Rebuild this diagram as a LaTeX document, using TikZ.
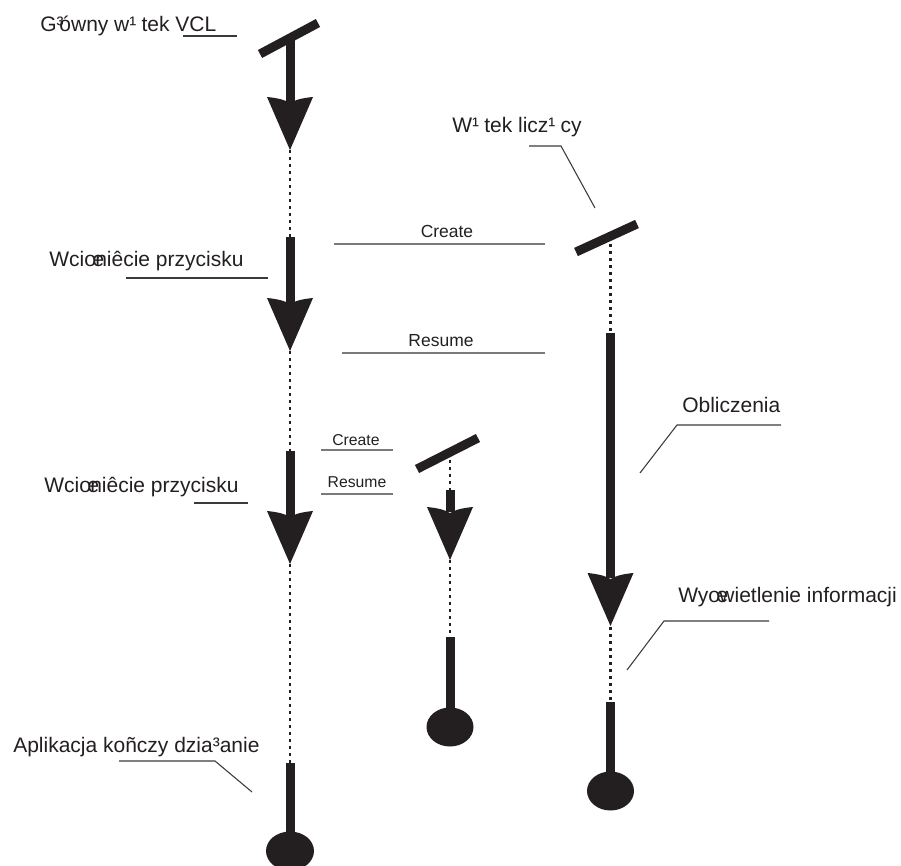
\documentclass[tikz,border=0pt]{standalone}
\usepackage{fontspec}
\setmainfont{Liberation Sans}
\definecolor{ink}{HTML}{231F20}
\definecolor{lead}{HTML}{3A3A3A}
\definecolor{msg}{HTML}{7A7A7A}
% the oe ligature is set with a narrow advance, so it overlaps the next letter
\newcommand{\narrowoe}{œ\kern-0.42em}
% the superscript one is set with a wide advance
\newcommand{\wideone}{¹\kern0.25em}
\tikzset{
  tiphead/.pic={\fill[ink] (-23,0) .. controls (-12,1) and (-5,3) .. (0,6)
     .. controls (5,3) and (12,1) .. (23,0) -- (0,53) -- cycle;}
}
\begin{document}
\begin{tikzpicture}[x=0.75pt,y=-0.75pt,
  thread/.style={ink,line width=6.75pt},
  waiting/.style={ink,line width=2pt,dash pattern=on 2.25pt off 3pt},
  startbar/.style={ink,line width=6.75pt},
  leader/.style={lead,line width=0.8pt},
  msgline/.style={msg,line width=1.3pt},
  biglabel/.style={ink,inner sep=0pt,font=\fontsize{15.75}{18}\selectfont},
  msglabel/.style={ink,inner sep=0pt,font=\fontsize{13.1}{15}\selectfont},
  smallmsg/.style={ink,inner sep=0pt,font=\fontsize{11.8}{14}\selectfont},
  endblob/.style={ink}]
\useasboundingbox (0,0) rectangle (901,866);

% ---------- main VCL thread ----------
\coordinate (a0) at (290,38);
\coordinate (a1) at (290,103);
\coordinate (a2) at (290,150);
\coordinate (a3) at (290,237);
\coordinate (a4) at (290,304);
\coordinate (a5) at (290,351);
\coordinate (a6) at (290,451);
\coordinate (a7) at (290,517);
\coordinate (a8) at (290,564);
\coordinate (a9) at (290,763);
\coordinate (a10) at (290,840);
\coordinate (aend) at (290,851);
\coordinate (bar1l) at (260,54);
\coordinate (bar1r) at (318,23);

\draw[startbar] (bar1l) -- (bar1r);
\draw[thread] (a0) -- (a1);
\pic at (290,97) {tiphead};
\draw[waiting] (a2) -- (a3);
\draw[thread] (a3) -- (a4);
\pic at (290,298) {tiphead};
\draw[waiting] (a5) -- (a6);
\draw[thread] (a6) -- (a7);
\pic at (290,511) {tiphead};
\draw[waiting] (a8) -- (a9);
\draw[thread] (a9) -- (a10);
\fill[endblob] (aend) ellipse [x radius=24, y radius=19.5];

% ---------- short worker thread ----------
\coordinate (c0) at (450,453);
\coordinate (c1) at (450,490);
\coordinate (c2) at (450,512);
\coordinate (c3) at (450,560);
\coordinate (c4) at (450,637);
\coordinate (c5) at (450,715);
\coordinate (cend) at (450,727);
\coordinate (bar2l) at (417,469);
\coordinate (bar2r) at (478,438);

\draw[startbar] (bar2l) -- (bar2r);
\draw[waiting] (c0) -- (c1);
\draw[thread] (c1) -- (c2);
\pic at (450,507) {tiphead};
\draw[waiting] (c3) -- (c4);
\draw[thread] (c4) -- (c5);
\fill[endblob] (cend) ellipse [x radius=23.5, y radius=19.5];

% ---------- computing thread ----------
\coordinate (r0) at (610.5,237);
\coordinate (r1) at (610.5,333);
\coordinate (r2) at (610.5,578);
\coordinate (r3) at (610.5,627);
\coordinate (r4) at (610.5,702);
\coordinate (r5) at (610.5,780);
\coordinate (rend) at (610.5,791);
\coordinate (bar3l) at (576,252);
\coordinate (bar3r) at (637,224);

\draw[startbar] (bar3l) -- (bar3r);
\draw[waiting] (r0) -- (r1);
\draw[thread] (r1) -- (r2);
\pic at (610.5,573) {tiphead};
\draw[waiting] (r3) -- (r4);
\draw[thread] (r4) -- (r5);
\fill[endblob] (rend) ellipse [x radius=23.5, y radius=19.5];

% ---------- messages ----------
\coordinate (m1a) at (334,244);  \coordinate (m1b) at (545,244);
\coordinate (m2a) at (342,353);  \coordinate (m2b) at (545,353);
\coordinate (m3a) at (321,450);  \coordinate (m3b) at (393,450);
\coordinate (m4a) at (321,494);  \coordinate (m4b) at (393,494);
\draw[msgline] (m1a) -- (m1b);
\draw[msgline] (m2a) -- (m2b);
\draw[msgline] (m3a) -- (m3b);
\draw[msgline] (m4a) -- (m4b);
\node[msglabel,anchor=base] (create1) at (447,238) {Create};
\node[msglabel,anchor=base] (resume1) at (441,347) {Resume};
\node[smallmsg,anchor=base] (create2) at (356,446) {Create};
\node[smallmsg,anchor=base] (resume2) at (357,488) {Resume};

% ---------- labels with leaders ----------
\node[biglabel,anchor=base west] (lvcl) at (40,32) {G³\kern-0.2em ówny w\wideone tek VCL};
\coordinate (u1a) at (183,36); \coordinate (u1b) at (237,36);
\draw[leader] (u1a) -- (u1b);

\node[biglabel,anchor=base west] (lclick1) at (49,267) {Wci\narrowoe niêcie przycisku};
\coordinate (u2a) at (126,278); \coordinate (u2b) at (268,278);
\draw[leader] (u2a) -- (u2b);

\node[biglabel,anchor=base west] (lclick2) at (44,493) {Wci\narrowoe niêcie przycisku};
\coordinate (u3a) at (194,503); \coordinate (u3b) at (248,503);
\draw[leader] (u3a) -- (u3b);

\node[biglabel,anchor=base west] (lend) at (13,752) {Aplikacja koñczy dzia³anie};
\coordinate (u4a) at (119,761); \coordinate (u4b) at (215,761); \coordinate (u4c) at (252,792);
\draw[leader] (u4a) -- (u4b) -- (u4c);

\node[biglabel,anchor=base west] (lworker) at (452,133) {W\wideone tek licz\wideone cy};
\coordinate (u5a) at (529,146); \coordinate (u5b) at (561,146); \coordinate (u5c) at (595,208);
\draw[leader] (u5a) -- (u5b) -- (u5c);

\node[biglabel,anchor=base west] (lcalc) at (682,413) {Obliczenia};
\coordinate (u6a) at (781,425); \coordinate (u6b) at (677,425); \coordinate (u6c) at (640,473);
\draw[leader] (u6a) -- (u6b) -- (u6c);

\node[biglabel,anchor=base west] (lshow) at (678,603) {Wy\narrowoe wietlenie informacji};
\coordinate (u7a) at (769,621); \coordinate (u7b) at (664,621); \coordinate (u7c) at (627,670);
\draw[leader] (u7a) -- (u7b) -- (u7c);
\end{tikzpicture}
\end{document}
